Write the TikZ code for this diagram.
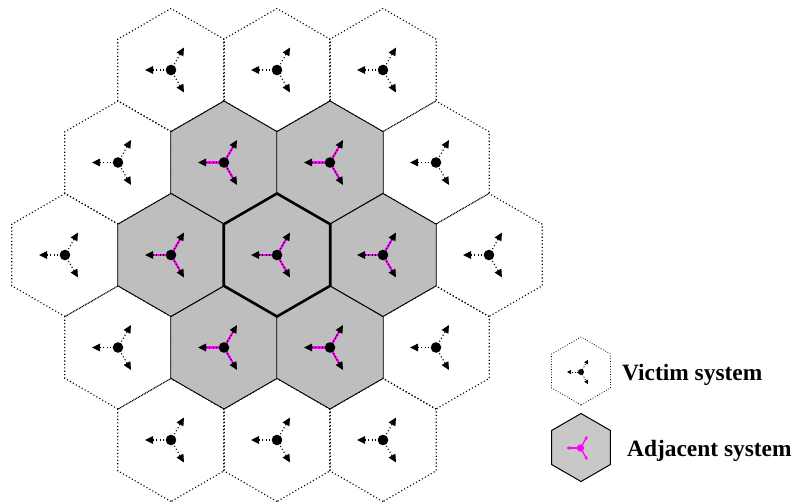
\documentclass[tikz,border=0pt]{standalone}
\usepackage{fontspec}
\setmainfont{Liberation Serif}
\usetikzlibrary{arrows.meta}
\definecolor{cellgray}{HTML}{BEBEBE}
\definecolor{leggray}{HTML}{C8C8C8}
\definecolor{mag}{HTML}{FF00FF}
\newcommand{\hexcell}[3]{\path[#1,shift={(#2)}] (90:#3) -- (150:#3) -- (210:#3) -- (270:#3) -- (330:#3) -- (30:#3) -- cycle;}
\newcommand{\victimant}[1]{%
  \fill[shift={(#1)}] (0,0) circle (5.3);
  \foreach \a in {180,60,-60}{\draw[dotline,tipbig,shift={(#1)}] (0,0) -- (\a:26);}}
\newcommand{\adjant}[1]{%
  \foreach \a in {180,60,-60}{\draw[mag,line width=2.2pt,shift={(#1)}] (0,0) -- (\a:21);}
  \foreach \a in {180,60,-60}{\draw[dotline,tipbig,shift={(#1)}] (0,0) -- (\a:26);}
  \fill[shift={(#1)}] (0,0) circle (5.3);}
\begin{document}
\begin{tikzpicture}[x=1pt,y=-1pt,
  dotline/.style={line width=1.1pt,dash pattern=on 1.1pt off 2.3pt},
  victimhex/.style={draw=black,dotline},
  adjhex/.style={draw=black,line width=0.9pt,fill=cellgray},
  centerhex/.style={draw=black,line width=2.6pt,fill=cellgray},
  tipbig/.style={-{Triangle[length=8pt,width=7.5pt]}},
  legtext/.style={font=\fontsize{23.4}{27}\selectfont\bfseries,anchor=base west,inner sep=0pt},
]
\useasboundingbox (0,0) rectangle (795,503);
% outer ring (victim systems)
\foreach \p in {{171,70},{277,70},{383,70},{118,162.5},{436,162.5},{65,255},{489,255},{118,347.5},{436,347.5},{171,440},{277,440},{383,440}}{
  \hexcell{victimhex}{\p}{61.5}
  \victimant{\p}
}
% adjacent ring
\foreach \p in {{224,162.5},{330,162.5},{171,255},{383,255},{224,347.5},{330,347.5}}{
  \hexcell{adjhex}{\p}{61.5}
  \adjant{\p}
}
% center
\hexcell{centerhex}{277,255}{61.5}
\adjant{277,255}
% legend
\hexcell{draw=black,line width=0.8pt,dash pattern=on 0.8pt off 1.8pt}{581,371}{34}
\fill (581,372) circle (3);
\foreach \a in {180,60,-60}{\draw[line width=0.9pt,dash pattern=on 0.9pt off 1.8pt,-{Triangle[length=4pt,width=4pt]},shift={(581,372)}] (0,0) -- (\a:14);}
\hexcell{draw=black,line width=1pt,fill=leggray}{581,447.5}{34}
\foreach \a in {180,60,-60}{\draw[mag,line width=1.3pt,-{Triangle[length=3.5pt,width=3.5pt]},shift={(580.5,448)}] (0,0) -- (\a:14);}
\fill[mag] (580.5,448) circle (3.6);
\node[legtext] (victimlabel) at (622,380) {Victim system};
\node[legtext] (adjlabel) at (627,456) {Adjacent system};
\end{tikzpicture}
\end{document}
